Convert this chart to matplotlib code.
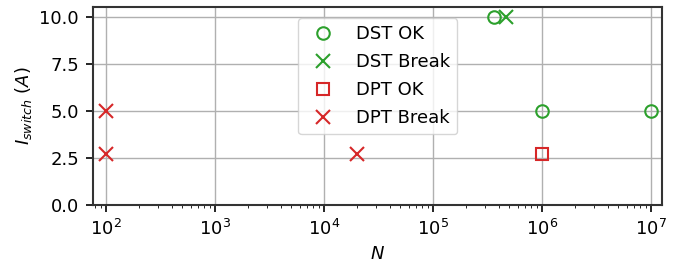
import matplotlib
matplotlib.use("Agg")
import matplotlib.pyplot as plt

dst_ok_n = [3.6e5, 1e6, 1e7]
dst_ok_i = [10.0, 5.0, 5.0]
dst_break_n = [4.7e5]
dst_break_i = [10.0]
dpt_ok_n = [1e6]
dpt_ok_i = [2.7]
dpt_break_n = [100, 100, 2e4]
dpt_break_i = [5.0, 2.7, 2.7]

green = "#2ca02c"
red = "#d62728"

plt.rcParams['font.size'] = 13
fig, ax = plt.subplots(figsize=(6.83, 2.64), dpi=100)
ax.plot(dst_ok_n, dst_ok_i, 'o', mfc='none', mec=green, ms=9, mew=1.5, label='DST OK', ls='none')
ax.plot(dst_break_n, dst_break_i, 'x', color=green, ms=10, mew=1.5, label='DST Break', ls='none')
ax.plot(dpt_ok_n, dpt_ok_i, 's', mfc='none', mec=red, ms=9, mew=1.5, label='DPT OK', ls='none')
ax.plot(dpt_break_n, dpt_break_i, 'x', color=red, ms=10, mew=1.5, label='DPT Break', ls='none')

ax.set_xscale('log')
ax.set_xlim(10**1.88, 10**7.1)
ax.set_ylim(0, 10.5)
ax.set_yticks([0, 2.5, 5, 7.5, 10])
ax.set_yticklabels(['0.0', '2.5', '5.0', '7.5', '10.0'])
ax.tick_params(which='major', length=5, width=1.2, pad=5)
ax.grid(True, which='major', color='#b0b0b0', lw=1)
ax.set_axisbelow(True)
ax.set_xlabel('$N$')
ax.set_ylabel(r'$I_{switch}\ (A)$')
for s in ax.spines.values():
    s.set_color('#333333')
    s.set_linewidth(1.5)
ax.legend(loc='upper left', bbox_to_anchor=(0.345, 0.99), fontsize=13, framealpha=0.8,
          labelspacing=0.55)
fig.subplots_adjust(left=0.136, right=0.969, top=0.973, bottom=0.223)
fig.savefig('out.png', dpi=100)
